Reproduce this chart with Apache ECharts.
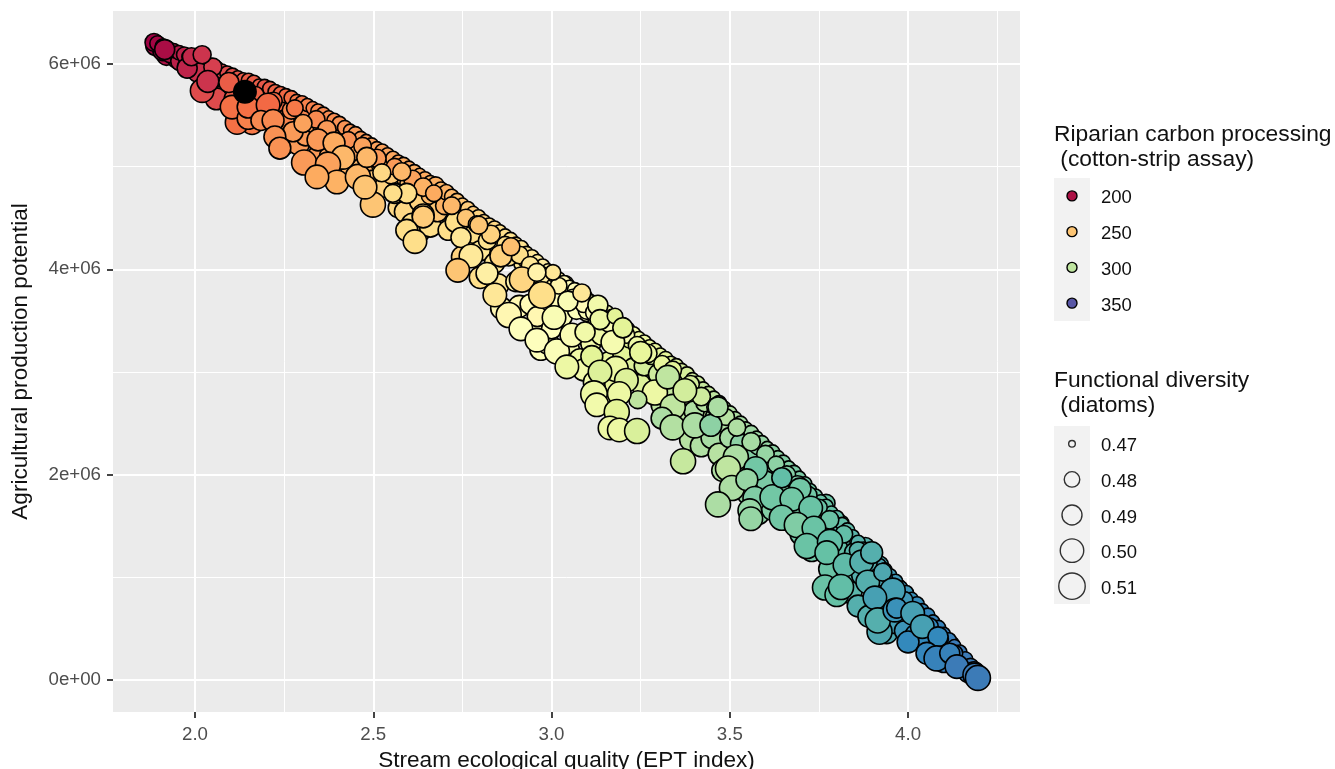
<!DOCTYPE html>
<html>
<head>
<meta charset="utf-8">
<style>html,body{margin:0;padding:0;background:#fff;overflow:hidden}#c{width:1335px;height:769px}</style>
<script src="https://cdn.jsdelivr.net/npm/echarts@6/dist/echarts.min.js"></script>
</head>
<body>
<div id="c"></div>
<script>
// Each row: [EPT index, production potential in millions, carbon processing, functional diversity]
const fillPoints = [
[1.89,6.18,197,.49],[1.91,6.13,199,.49],[1.93,6.10,200,.485],[1.96,6.03,204,.49],[1.98,5.98,206,.49],[2.01,5.93,208,.49],[2.03,5.87,210,.49],[2.05,5.90,212,.485],[2.07,5.80,214,.49],[2.09,5.72,216,.495],
[2.06,5.66,216,.495],[2.11,5.66,222,.49],[2.13,5.80,220,.485],[2.12,5.50,226,.495],[2.16,5.42,230,.495],[2.17,5.66,226,.49],[2.20,5.52,230,.49],[2.23,5.62,226,.485],[2.25,5.45,233,.49],[2.27,5.55,234,.485],
[2.25,5.22,236,.495],[2.29,5.22,238,.495],[2.31,5.30,238,.49],[2.33,5.42,238,.485],[2.36,5.38,240,.49],[2.35,5.12,238,.495],[2.39,5.36,238,.485],[2.38,5.10,240,.495],[2.42,5.18,244,.49],[2.44,4.98,244,.495],
[2.46,5.14,240,.485],[2.47,4.98,246,.495],[2.50,4.86,250,.495],[2.52,5.02,246,.485],[2.53,4.80,254,.49],[2.55,4.92,252,.485],[2.57,4.60,256,.49],[2.59,4.56,256,.495],[2.60,4.84,248,.485],[2.61,4.44,258,.495],
[2.63,4.36,260,.49],[2.63,4.66,254,.49],[2.66,4.72,246,.485],[2.66,4.42,258,.495],[2.68,4.56,250,.49],[2.70,4.62,244,.485],[2.71,4.38,258,.49],[2.73,4.46,258,.49],[2.75,4.12,254,.495],[2.76,4.30,262,.49],
[2.78,4.34,258,.485],[2.80,4.18,262,.49],[2.80,3.92,258,.495],[2.82,4.28,260,.485],[2.84,4.06,262,.49],[2.85,3.85,262,.495],[2.86,3.62,270,.495],[2.88,4.12,258,.485],[2.90,3.88,268,.49],[2.91,3.64,270,.495],
[2.93,4.10,256,.485],[2.94,3.66,272,.49],[2.95,3.38,276,.495],[2.96,3.54,270,.49],[2.97,3.22,276,.495],[2.98,3.85,268,.485],[2.99,3.28,276,.495],[3.00,3.42,274,.49],[3.01,3.72,272,.485],[3.03,3.54,276,.49],
[3.04,3.86,268,.48],[3.05,3.22,280,.49],[3.07,3.60,276,.485],[3.08,3.12,284,.495],[3.09,3.02,282,.495],[3.10,3.60,278,.485],[3.11,3.28,282,.49],[3.12,2.90,282,.495],[3.14,3.36,284,.49],[3.15,2.80,286,.495],
[3.16,3.10,288,.49],[3.17,3.48,282,.485],[3.18,2.88,288,.495],[3.20,3.18,290,.49],[3.22,3.32,290,.485],[3.23,3.04,292,.49],[3.25,2.88,292,.49],[3.26,3.06,294,.49],[3.28,3.16,294,.485],[3.30,2.98,296,.49],
[3.31,2.68,300,.495],[3.33,2.82,298,.49],[3.35,3.00,296,.485],[3.37,2.62,302,.49],[3.38,2.78,300,.49],[3.40,2.62,304,.49],[3.39,2.34,302,.495],[3.42,2.28,304,.495],[3.43,2.70,302,.485],[3.45,2.36,306,.495],
[3.46,2.56,304,.49],[3.47,2.20,302,.495],[3.48,2.04,304,.495],[3.50,2.36,306,.49],[3.52,1.98,308,.495],[3.53,2.30,312,.49],[3.55,1.82,310,.495],[3.55,2.20,314,.49],[3.58,1.62,312,.495],[3.58,2.28,312,.485],
[3.60,1.94,316,.49],[3.62,2.12,318,.49],[3.62,1.66,314,.495],[3.65,1.82,316,.495],[3.67,2.02,318,.485],[3.68,1.62,316,.495],[3.70,1.42,318,.495],[3.71,1.80,318,.49],[3.73,1.26,318,.495],[3.74,1.60,320,.49],
[3.76,1.42,320,.495],[3.77,1.72,320,.485],[3.78,1.08,320,.495],[3.80,1.28,322,.495],[3.81,1.52,322,.485],[3.83,1.02,324,.495],[3.84,.85,324,.495],[3.85,1.24,324,.49],[3.86,.72,326,.495],[3.87,1.02,326,.49],
[3.88,1.30,325,.485],[3.89,.62,326,.495],[3.91,.96,328,.49],[3.92,1.12,328,.485],[3.93,.72,328,.49],[3.94,.46,328,.495],[3.96,.56,331,.495],[3.97,.90,330,.485],[3.99,.48,333,.49],[4.00,.70,332,.485],
[4.02,.44,334,.49],[4.03,.64,333,.485],[4.05,.34,336,.49],[4.06,.50,335,.485],[4.08,.30,337,.49],[4.09,.46,336,.48],[4.10,.17,339,.49],[4.12,.34,338,.485],[4.13,.20,340,.49],[4.15,.12,340,.49],[4.17,.08,340,.495]
];
const ridgePoints = [
[1.92,6.08,200,.488],[1.95,6.05,203,.488],[1.98,6.02,205,.49],[2.01,5.98,208,.49],[2.04,5.92,210,.488],[2.07,5.88,214,.486],[2.10,5.78,218,.488],[2.13,5.72,220,.488],[2.17,5.76,222,.484],[2.20,5.68,224,.486],
[2.23,5.66,226,.484],[2.26,5.62,230,.486],[2.29,5.56,232,.486],[2.32,5.50,234,.486],[2.35,5.44,236,.486],[2.38,5.38,236,.486],[2.41,5.30,238,.488],[2.44,5.24,238,.486],[2.47,5.18,240,.486],[2.50,5.10,242,.488],
[2.53,5.04,242,.486],[2.56,4.98,244,.486],[2.59,4.90,246,.488],[2.62,4.84,244,.486],[2.65,4.76,246,.488],[2.68,4.70,248,.486],[2.71,4.62,250,.488],[2.74,4.54,252,.486],[2.77,4.44,254,.488],[2.80,4.38,256,.486],
[2.83,4.30,258,.488],[2.86,4.24,258,.486],[2.89,4.14,262,.488],[2.92,4.06,262,.486],[2.95,3.98,266,.488],[2.98,3.90,268,.486],[3.01,3.82,270,.488],[3.04,3.74,272,.486],[3.07,3.68,274,.488],[3.10,3.58,276,.486],
[3.13,3.50,278,.488],[3.16,3.42,280,.486],[3.19,3.34,284,.488],[3.22,3.26,284,.486],[3.25,3.18,286,.488],[3.28,3.10,288,.486],[3.31,3.00,290,.488],[3.34,2.92,292,.486],[3.37,2.88,294,.488],[3.40,2.80,296,.486],
[3.43,2.66,298,.488],[3.46,2.58,302,.486],[3.49,2.46,304,.488],[3.52,2.38,306,.486],[3.55,2.28,308,.488],[3.58,2.18,310,.486],[3.61,2.08,312,.488],[3.64,2.00,314,.486],[3.67,1.90,316,.488],[3.70,1.78,318,.486],
[3.73,1.68,320,.488],[3.76,1.58,320,.486],[3.79,1.46,322,.488],[3.82,1.36,324,.486],[3.85,1.22,325,.488],[3.88,1.10,326,.486],[3.91,1.02,328,.488],[3.94,.92,330,.486],[3.97,.80,332,.488],[4.00,.68,333,.486],
[4.03,.56,335,.488],[4.06,.44,337,.486],[4.09,.32,338,.488],[4.12,.22,340,.486],[4.15,.16,340,.488]
];
const edgePoints = [
[1.885,6.21,196,.485],[1.895,6.20,197,.48],[1.91,6.17,198,.48],[1.925,6.15,199,.478],[1.94,6.13,201,.478],[1.955,6.11,202,.478],[1.97,6.09,204,.48],[1.985,6.07,205,.48],[2.00,6.05,207,.482],[2.015,6.04,208,.485],
[2.03,6.00,209,.48],[2.045,5.98,211,.48],[2.06,5.96,212,.478],[2.075,5.93,214,.478],[2.09,5.91,216,.478],[2.105,5.89,218,.478],[2.12,5.87,220,.476],[2.135,5.85,221,.476],[2.15,5.84,222,.478],[2.165,5.82,222,.478],
[2.18,5.79,222,.476],[2.195,5.78,220,.478],[2.21,5.76,222,.478],[2.225,5.73,224,.478],[2.24,5.71,224,.478],[2.255,5.69,226,.478],[2.27,5.67,228,.478],[2.285,5.64,230,.476],[2.30,5.62,230,.478],[2.315,5.60,232,.476],
[2.33,5.57,232,.476],[2.345,5.54,234,.478],[2.36,5.51,234,.478],[2.375,5.48,234,.476],[2.39,5.45,235,.478],[2.405,5.42,236,.478],[2.42,5.38,236,.478],[2.435,5.35,236,.476],[2.45,5.32,238,.478],[2.465,5.28,238,.476],
[2.48,5.25,238,.476],[2.495,5.21,240,.478],[2.51,5.18,240,.476],[2.525,5.15,240,.478],[2.54,5.12,240,.476],[2.555,5.08,241,.478],[2.57,5.05,240,.476],[2.585,5.02,242,.478],[2.60,4.99,241,.476],[2.615,4.95,243,.478],
[2.63,4.92,242,.476],[2.645,4.88,242,.478],[2.66,4.85,244,.476],[2.675,4.82,243,.482],[2.69,4.78,245,.478],[2.705,4.75,244,.48],[2.72,4.71,246,.478],[2.735,4.67,248,.478],[2.75,4.63,250,.476],[2.765,4.59,252,.478],
[2.78,4.55,252,.476],[2.795,4.51,254,.478],[2.81,4.47,254,.476],[2.825,4.43,256,.478],[2.84,4.40,256,.478],[2.855,4.37,258,.476],[2.87,4.33,258,.476],[2.885,4.29,260,.478],[2.90,4.25,258,.476],[2.915,4.21,260,.478],
[2.93,4.16,262,.476],[2.945,4.12,262,.478],[2.96,4.08,264,.476],[2.975,4.03,264,.478],[2.99,3.99,266,.476],[3.005,3.95,268,.478],[3.02,3.91,268,.476],[3.035,3.87,270,.478],[3.05,3.83,272,.476],[3.065,3.80,272,.478],
[3.08,3.77,274,.476],[3.095,3.73,274,.478],[3.11,3.69,276,.476],[3.125,3.65,278,.478],[3.14,3.62,278,.476],[3.155,3.58,280,.478],[3.17,3.54,280,.478],[3.185,3.50,282,.476],[3.20,3.46,282,.478],[3.215,3.42,284,.476],
[3.23,3.37,284,.478],[3.245,3.33,286,.476],[3.26,3.29,286,.478],[3.275,3.25,288,.476],[3.29,3.21,288,.478],[3.305,3.17,290,.476],[3.32,3.13,290,.478],[3.335,3.09,292,.476],[3.35,3.06,292,.478],[3.365,3.02,294,.476],
[3.38,2.98,294,.478],[3.395,2.93,296,.476],[3.41,2.89,296,.478],[3.425,2.84,298,.476],[3.44,2.79,298,.478],[3.455,2.75,300,.476],[3.47,2.70,300,.478],[3.485,2.65,302,.476],[3.50,2.60,304,.478],[3.515,2.55,304,.476],
[3.53,2.50,306,.478],[3.545,2.45,306,.476],[3.56,2.41,308,.478],[3.575,2.36,308,.476],[3.59,2.31,310,.478],[3.605,2.26,310,.476],[3.62,2.22,312,.478],[3.635,2.17,312,.476],[3.65,2.12,314,.478],[3.665,2.07,314,.476],
[3.68,2.02,316,.478],[3.695,1.97,316,.476],[3.71,1.91,317,.478],[3.725,1.85,318,.476],[3.74,1.79,318,.478],[3.755,1.74,320,.476],[3.77,1.69,320,.478],[3.785,1.63,321,.476],[3.80,1.58,322,.478],[3.815,1.52,322,.476],
[3.83,1.46,323,.478],[3.845,1.40,324,.476],[3.86,1.34,325,.478],[3.875,1.28,326,.476],[3.89,1.22,327,.478],[3.905,1.17,328,.478],[3.92,1.12,329,.476],[3.935,1.07,330,.478],[3.95,1.02,331,.476],[3.965,.96,332,.478],
[3.98,.90,333,.476],[3.995,.85,333,.478],[4.01,.79,334,.476],[4.025,.74,335,.478],[4.04,.68,336,.476],[4.055,.63,337,.478],[4.07,.57,338,.476],[4.085,.51,338,.478],[4.10,.45,339,.476],[4.115,.39,339,.478],
[4.13,.33,340,.476],[4.145,.27,340,.478],[4.16,.20,340,.48],[4.175,.13,340,.482],[4.185,.08,340,.49]
];
const shoulderPoints = [
[2.17,5.70,224,.482],[2.22,5.64,226,.484],[2.28,5.57,230,.482],[2.34,5.46,234,.484],[2.37,5.36,238,.486],[2.43,5.26,236,.482],[2.47,5.20,240,.484],[2.51,5.08,238,.486],[2.56,5.00,238,.482],[2.61,4.88,240,.484],
[2.64,4.80,244,.486],[2.67,4.74,242,.482],[2.72,4.62,246,.484],[2.76,4.50,250,.484],[2.79,4.44,250,.482],[2.83,4.34,254,.486],[2.87,4.24,258,.482],[2.91,4.14,258,.484],[2.94,4.04,262,.484],[2.97,3.94,264,.486],
[3.02,3.84,268,.482],[3.06,3.72,272,.484],[3.09,3.66,272,.482],[3.12,3.58,276,.484],[3.16,3.48,278,.486],[3.21,3.36,280,.482],[3.24,3.26,284,.484],[3.27,3.18,286,.486],[3.31,3.08,288,.482],[3.34,3.02,290,.484],
[3.39,2.88,294,.484],[3.42,2.76,296,.486],[3.46,2.66,298,.484],[3.49,2.56,302,.482],[3.52,2.46,304,.484],[3.56,2.32,306,.486],[3.60,2.20,310,.484],[3.63,2.10,312,.482],[3.66,2.00,314,.484],[3.69,1.90,316,.486],
[3.72,1.80,318,.484],[3.75,1.68,320,.482],[3.78,1.56,320,.486],[3.82,1.42,322,.484],[3.86,1.26,325,.484],[3.89,1.14,326,.482],[3.93,1.00,329,.486],[3.96,.88,331,.484],[3.99,.78,332,.482],[4.02,.66,334,.484],
[4.06,.52,336,.484],[4.09,.40,338,.482],[4.13,.26,340,.482]
];
const largePoints = [
[2.008,5.92,208,.49],[1.978,5.96,205,.49],[2.05,5.97,212,.485],[1.99,6.07,206,.485],[2.02,6.09,209,.485],[1.915,6.14,199,.49],[2.02,5.74,216,.50],[2.036,5.83,209,.495],[2.095,5.82,222,.49],
[2.118,5.43,228,.50],[2.104,5.58,228,.50],[2.149,5.47,232,.495],[2.149,5.58,228,.495],[2.205,5.60,226,.50],[2.185,5.45,234,.49],[2.219,5.45,234,.495],[2.275,5.34,238,.49],[2.224,5.29,236,.495],[2.238,5.18,236,.495],[2.303,5.42,240,.485],
[2.345,5.26,238,.495],[2.39,5.23,242,.495],[2.415,5.09,246,.50],[2.306,5.04,238,.505],[2.373,5.02,240,.505],[2.398,4.85,244,.50],[2.457,4.90,246,.505],[2.342,4.90,242,.50],[2.482,5.09,246,.49],[2.499,4.63,250,.505],
[2.477,4.80,250,.50],[2.524,4.94,256,.485],[2.58,4.95,246,.485],[2.56,4.74,258,.49],[2.594,4.74,258,.49],[2.64,4.53,256,.495],[2.64,4.51,252,.495],[2.594,4.38,258,.495],[2.617,4.27,258,.50],[2.555,4.74,258,.485],
[2.796,4.43,250,.485],[2.746,4.31,262,.49],[2.774,4.13,263,.50],[2.737,3.99,250,.50],[2.858,4.13,254,.495],[2.886,4.22,248,.485],[2.819,3.96,266,.495],[2.841,3.75,262,.50],[2.917,3.90,255,.505],[2.973,3.75,258,.51],
[2.88,3.555,270,.505],[2.914,3.42,275,.50],[2.959,3.31,275,.50],[3.015,3.20,277,.505],[3.043,3.05,285,.50],[3.004,3.97,262,.48],[2.959,3.97,268,.485],[3.046,3.69,278,.49],[3.085,3.77,262,.485],[3.13,3.65,282,.49],
[3.136,3.51,285,.49],[3.007,3.53,278,.50],[3.057,3.36,278,.50],[3.094,3.39,283,.49],[3.172,3.29,280,.50],[3.25,3.19,288,.495],[3.18,3.03,285,.505],[3.113,3.15,290,.495],[3.136,3.0,292,.50],[3.21,2.92,292,.50],
[3.29,2.80,285,.505],[3.242,2.73,300,.485],[3.19,2.79,285,.50],[3.119,2.785,285,.51],[3.127,2.68,282,.50],[3.183,2.61,290,.505],[3.164,2.455,285,.50],[3.19,2.435,285,.50],[3.24,2.425,293,.505],[3.326,2.95,300,.50],
[3.34,2.66,300,.505],[3.31,2.55,305,.495],[3.34,2.46,303,.505],[3.178,3.545,290,.48],[3.2,3.43,290,.49],[3.374,2.82,295,.50],[3.402,2.48,305,.505],[3.447,2.48,312,.495],[3.467,2.66,305,.49],[3.369,2.13,298,.505],
[3.517,2.17,305,.505],[3.495,2.06,300,.505],[3.573,2.06,318,.50],[3.506,1.87,305,.505],[3.467,1.71,305,.505],[3.548,1.95,310,.495],[3.57,1.77,315,.50],[3.62,1.78,318,.505],[3.646,1.97,322,.49],[3.697,1.86,318,.495],
[3.674,1.76,318,.50],[3.727,1.675,320,.50],[3.646,1.58,318,.505],[3.556,1.65,310,.50],[3.559,1.57,310,.50],[3.688,1.51,315,.505],[3.736,1.48,320,.50],[3.716,1.305,320,.505],[3.781,1.345,322,.505],[3.772,1.24,321,.50],
[3.823,1.12,323,.50],[3.87,1.15,326,.50],[3.767,.90,320,.505],[3.80,.83,321,.50],[3.812,.905,322,.505],[3.887,.955,326,.50],[3.929,1.05,328,.485],[3.898,1.24,326,.495],[3.957,.87,330,.505],[3.907,.80,330,.50],
[3.92,.47,328,.505],[3.915,.58,326,.505],[3.963,.68,333,.50],[4.0,.37,336,.495],[3.968,.70,334,.49],[4.013,.65,330,.50],[4.04,.52,330,.50],[4.084,.42,336,.49],[4.053,.26,337,.495],[4.08,.21,338,.505],
[4.117,.26,338,.49],[4.137,.13,340,.50],[4.187,.05,340,.50],[4.196,.02,340,.505]
];
const highlightPoint = [[2.14,5.73]];

const xMajorTicks = [2, 2.5, 3, 3.5, 4];
const xMinorTicks = [2.25, 2.75, 3.25, 3.75, 4.25];
const yMajorValues = [0, 2, 4, 6];
const yMinorValues = [1, 3, 5];
const yTickLabels = ['0e+00', '2e+06', '4e+06', '6e+06'];
const carbonLegend = ['200', '250', '300', '350'];
const diversityLegend = ['0.47', '0.48', '0.49', '0.50', '0.51'];
const spectral = ['#9E0142','#D53E4F','#F46D43','#FDAE61','#FEE08B','#FFFFBF','#E6F598','#ABDDA4','#66C2A5','#3288BD','#5E4FA2'];

const FONT = '"Liberation Sans", Arial, sans-serif';
const sizeOf = d => 4.2 + 22.5 * Math.sqrt(Math.max(0, d - 0.4695) / 0.0415);
const toRow = r => [r[0], r[1] * 1e6, r[2], r[3]];
const mainRows = ridgePoints.concat(fillPoints, edgePoints, shoulderPoints, largePoints).map(toRow);
const M = 1e6;

const xRange = {min: 1.77, max: 4.314};
const yRange = {min: -0.312 * M, max: 6.516 * M};
const hiddenAxis = {show: false, min: -1, max: 1, splitLine: {show: false}};
const legendCat = (gridIndex, data) => ({
  gridIndex, type: 'category', data, inverse: true, position: 'right',
  axisLine: {show: false}, axisTick: {show: false}, splitLine: {show: false},
  axisLabel: {margin: 11, color: '#111', fontSize: 18.5, fontFamily: FONT, verticalAlign: 'top', lineHeight: 5}
});

const chart = echarts.init(document.getElementById('c'), null, {renderer: 'canvas'});
chart.setOption({
  animation: false,
  backgroundColor: '#fff',
  title: [
    {text: 'Riparian carbon processing\n (cotton-strip assay)', left: 1049, top: 117,
     textStyle: {fontFamily: FONT, fontSize: 22.8, fontWeight: 'normal', color: '#111', lineHeight: 25}},
    {text: 'Functional diversity\n (diatoms)', left: 1049, top: 363,
     textStyle: {fontFamily: FONT, fontSize: 22.8, fontWeight: 'normal', color: '#111', lineHeight: 25}}
  ],
  grid: [
    {left: 113, top: 11, width: 907, height: 701, show: true, backgroundColor: '#EBEBEB', borderWidth: 0, outerBoundsMode: 'none'},
    {left: 1054, top: 178, width: 36, height: 143, show: true, backgroundColor: '#F2F2F2', borderWidth: 0, outerBoundsMode: 'none'},
    {left: 1054, top: 426, width: 36, height: 178, show: true, backgroundColor: '#F2F2F2', borderWidth: 0, outerBoundsMode: 'none'}
  ],
  xAxis: [
    {gridIndex: 0, type: 'value', ...xRange, name: 'Stream ecological quality (EPT index)', nameLocation: 'middle', nameGap: 37,
     nameTextStyle: {fontFamily: FONT, fontSize: 22.6, color: '#111'},
     axisLine: {show: false, onZero: false}, axisTick: {show: true, length: 6, lineStyle: {color: '#444', width: 2}, customValues: xMajorTicks},
     axisLabel: {customValues: xMajorTicks, color: '#4D4D4D', fontSize: 18.7, fontFamily: FONT, margin: 13, formatter: v => v.toFixed(1)},
     splitLine: {show: true, lineStyle: {color: '#fff', width: 2}}},
    {gridIndex: 0, type: 'value', ...xRange, position: 'top', axisLine: {show: false, onZero: false},
     axisTick: {show: false, customValues: xMinorTicks}, axisLabel: {show: false, customValues: xMinorTicks},
     splitLine: {show: true, lineStyle: {color: '#fff', width: 1}}},
    {gridIndex: 1, type: 'value', ...hiddenAxis},
    {gridIndex: 2, type: 'value', ...hiddenAxis}
  ],
  yAxis: [
    {gridIndex: 0, type: 'value', ...yRange, name: 'Agricultural production potential', nameLocation: 'middle', nameGap: 81, nameRotate: 90,
     nameTextStyle: {fontFamily: FONT, fontSize: 22.6, color: '#111'},
     axisLine: {show: false, onZero: false}, axisTick: {show: true, length: 6, lineStyle: {color: '#444', width: 2}, customValues: yMajorValues.map(v => v * M)},
     axisLabel: {customValues: yMajorValues.map(v => v * M), color: '#4D4D4D', fontSize: 18.7, fontFamily: FONT, margin: 12,
       formatter: v => yTickLabels[yMajorValues.indexOf(v / M)]},
     splitLine: {show: true, lineStyle: {color: '#fff', width: 2}}},
    {gridIndex: 0, type: 'value', ...yRange, position: 'right', axisLine: {show: false, onZero: false},
     axisTick: {show: false, customValues: yMinorValues.map(v => v * M)}, axisLabel: {show: false, customValues: yMinorValues.map(v => v * M)},
     splitLine: {show: true, lineStyle: {color: '#fff', width: 1}}},
    legendCat(1, carbonLegend),
    legendCat(2, diversityLegend)
  ],
  visualMap: {
    show: false, type: 'continuous', min: 196, max: 352, dimension: 2, seriesIndex: [0, 2],
    inRange: {color: spectral}
  },
  series: [
    {type: 'scatter', xAxisIndex: 0, yAxisIndex: 0, data: mainRows, symbol: 'circle', silent: true,
     symbolSize: r => sizeOf(r[3]), itemStyle: {borderColor: '#000', borderWidth: 1.6, opacity: 1}, large: false, progressive: 0},
    {type: 'scatter', xAxisIndex: 0, yAxisIndex: 0, data: highlightPoint.map(r => [r[0], r[1] * M]), symbol: 'circle', silent: true,
     symbolSize: 24, itemStyle: {color: '#000', opacity: 1}, z: 5},
    {type: 'scatter', xAxisIndex: 2, yAxisIndex: 2, data: carbonLegend.map(v => [0, v, +v]), symbol: 'circle', silent: true,
     symbolSize: 10, itemStyle: {borderColor: '#000', borderWidth: 1.4, opacity: 1}},
    {type: 'scatter', xAxisIndex: 3, yAxisIndex: 3, data: diversityLegend.map(v => [0, v]), symbol: 'circle', silent: true,
     symbolSize: r => sizeOf(+r[1]), itemStyle: {color: 'rgba(0,0,0,0)', borderColor: '#000', borderWidth: 1.4}}
  ]
});
</script>
</body>
</html>
